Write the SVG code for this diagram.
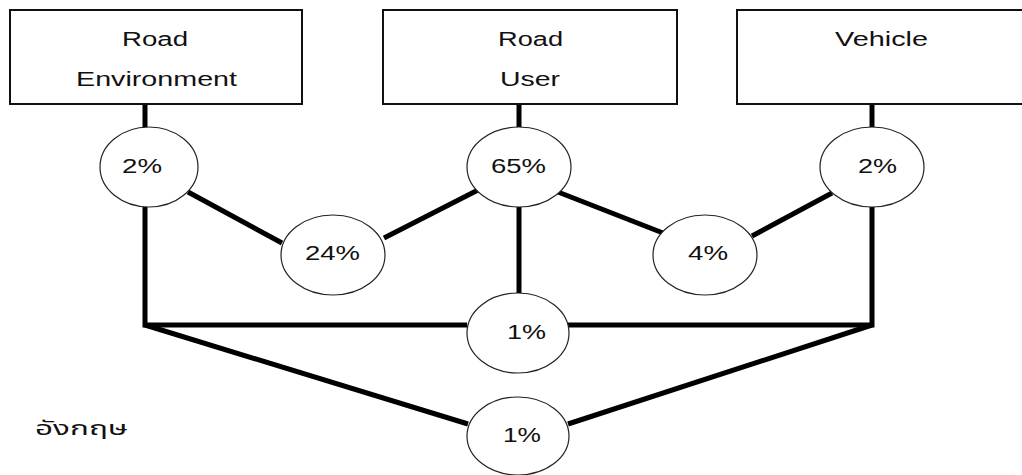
<svg xmlns="http://www.w3.org/2000/svg" width="1022" height="475" viewBox="0 0 1022 475">
  <style>
    .box { fill: #fff; stroke: #111; stroke-width: 2; }
    .node { fill: #fff; stroke: #222; stroke-width: 1.2; }
    .lbl { font-family: "Liberation Sans", Arial, sans-serif; font-size: 20px; fill: #111; }
    .pct { font-family: "Liberation Sans", Arial, sans-serif; font-size: 20px; fill: #111; }
    .link { stroke: #000; stroke-width: 5; fill: none; stroke-linejoin: miter; }
    .thai { font-family: "Noto Sans Thai", "Noto Sans", "DejaVu Sans", sans-serif; font-size: 20px; fill: #111; }
  </style>

  <rect width="1022" height="475" fill="#fff"/>

  <!-- connectors -->
  <g id="connectors" class="link">
    <line x1="145" y1="104" x2="145" y2="128"/>
    <line x1="519" y1="104" x2="519" y2="128"/>
    <line x1="872" y1="104" x2="872" y2="128"/>
    <line x1="188" y1="192" x2="282" y2="243"/>
    <line x1="384" y1="238" x2="478" y2="190"/>
    <line x1="558" y1="192" x2="663" y2="233"/>
    <line x1="752" y1="236" x2="832" y2="193"/>
    <line x1="519" y1="207" x2="519" y2="293"/>
    <polyline points="145,207 145,325 467,325"/>
    <polyline points="568,325 872,325 872,207"/>
    <line x1="145" y1="325" x2="468" y2="424"/>
    <line x1="872" y1="325" x2="568" y2="424"/>
  </g>

  <!-- factor boxes -->
  <g id="road-environment">
    <rect class="box" x="10" y="10" width="292" height="94"/>
    <text class="lbl" x="122" y="46" textLength="66" lengthAdjust="spacingAndGlyphs">Road</text>
    <text class="lbl" x="76" y="86" textLength="161" lengthAdjust="spacingAndGlyphs">Environment</text>
  </g>
  <g id="road-user">
    <rect class="box" x="383" y="10" width="294" height="94"/>
    <text class="lbl" x="498" y="46" textLength="65" lengthAdjust="spacingAndGlyphs">Road</text>
    <text class="lbl" x="500" y="86" textLength="60" lengthAdjust="spacingAndGlyphs">User</text>
  </g>
  <g id="vehicle">
    <rect class="box" x="737" y="10" width="292" height="94"/>
    <text class="lbl" x="835" y="46" textLength="93" lengthAdjust="spacingAndGlyphs">Vehicle</text>
  </g>

  <!-- share nodes -->
  <g id="env-only">
    <ellipse class="node" cx="149" cy="167" rx="49" ry="40"/>
    <text class="pct" x="122" y="173" textLength="40" lengthAdjust="spacingAndGlyphs">2%</text>
  </g>
  <g id="user-only">
    <ellipse class="node" cx="519" cy="167" rx="52" ry="40"/>
    <text class="pct" x="491" y="173" textLength="55" lengthAdjust="spacingAndGlyphs">65%</text>
  </g>
  <g id="vehicle-only">
    <ellipse class="node" cx="872" cy="167" rx="52" ry="40"/>
    <text class="pct" x="858" y="173" textLength="39" lengthAdjust="spacingAndGlyphs">2%</text>
  </g>
  <g id="env-user">
    <ellipse class="node" cx="333" cy="255" rx="52" ry="40"/>
    <text class="pct" x="305" y="260" textLength="55" lengthAdjust="spacingAndGlyphs">24%</text>
  </g>
  <g id="user-vehicle">
    <ellipse class="node" cx="705" cy="255" rx="52" ry="40"/>
    <text class="pct" x="688" y="260" textLength="40" lengthAdjust="spacingAndGlyphs">4%</text>
  </g>
  <g id="all-three">
    <ellipse class="node" cx="518" cy="333" rx="51" ry="40"/>
    <text class="pct" x="507" y="339" textLength="39" lengthAdjust="spacingAndGlyphs">1%</text>
  </g>
  <g id="env-vehicle">
    <ellipse class="node" cx="518" cy="436" rx="51" ry="39"/>
    <text class="pct" x="503" y="442" textLength="38" lengthAdjust="spacingAndGlyphs">1%</text>
  </g>

  <text class="thai" x="35" y="435" textLength="93" lengthAdjust="spacingAndGlyphs">อังกฤษ</text>
</svg>
